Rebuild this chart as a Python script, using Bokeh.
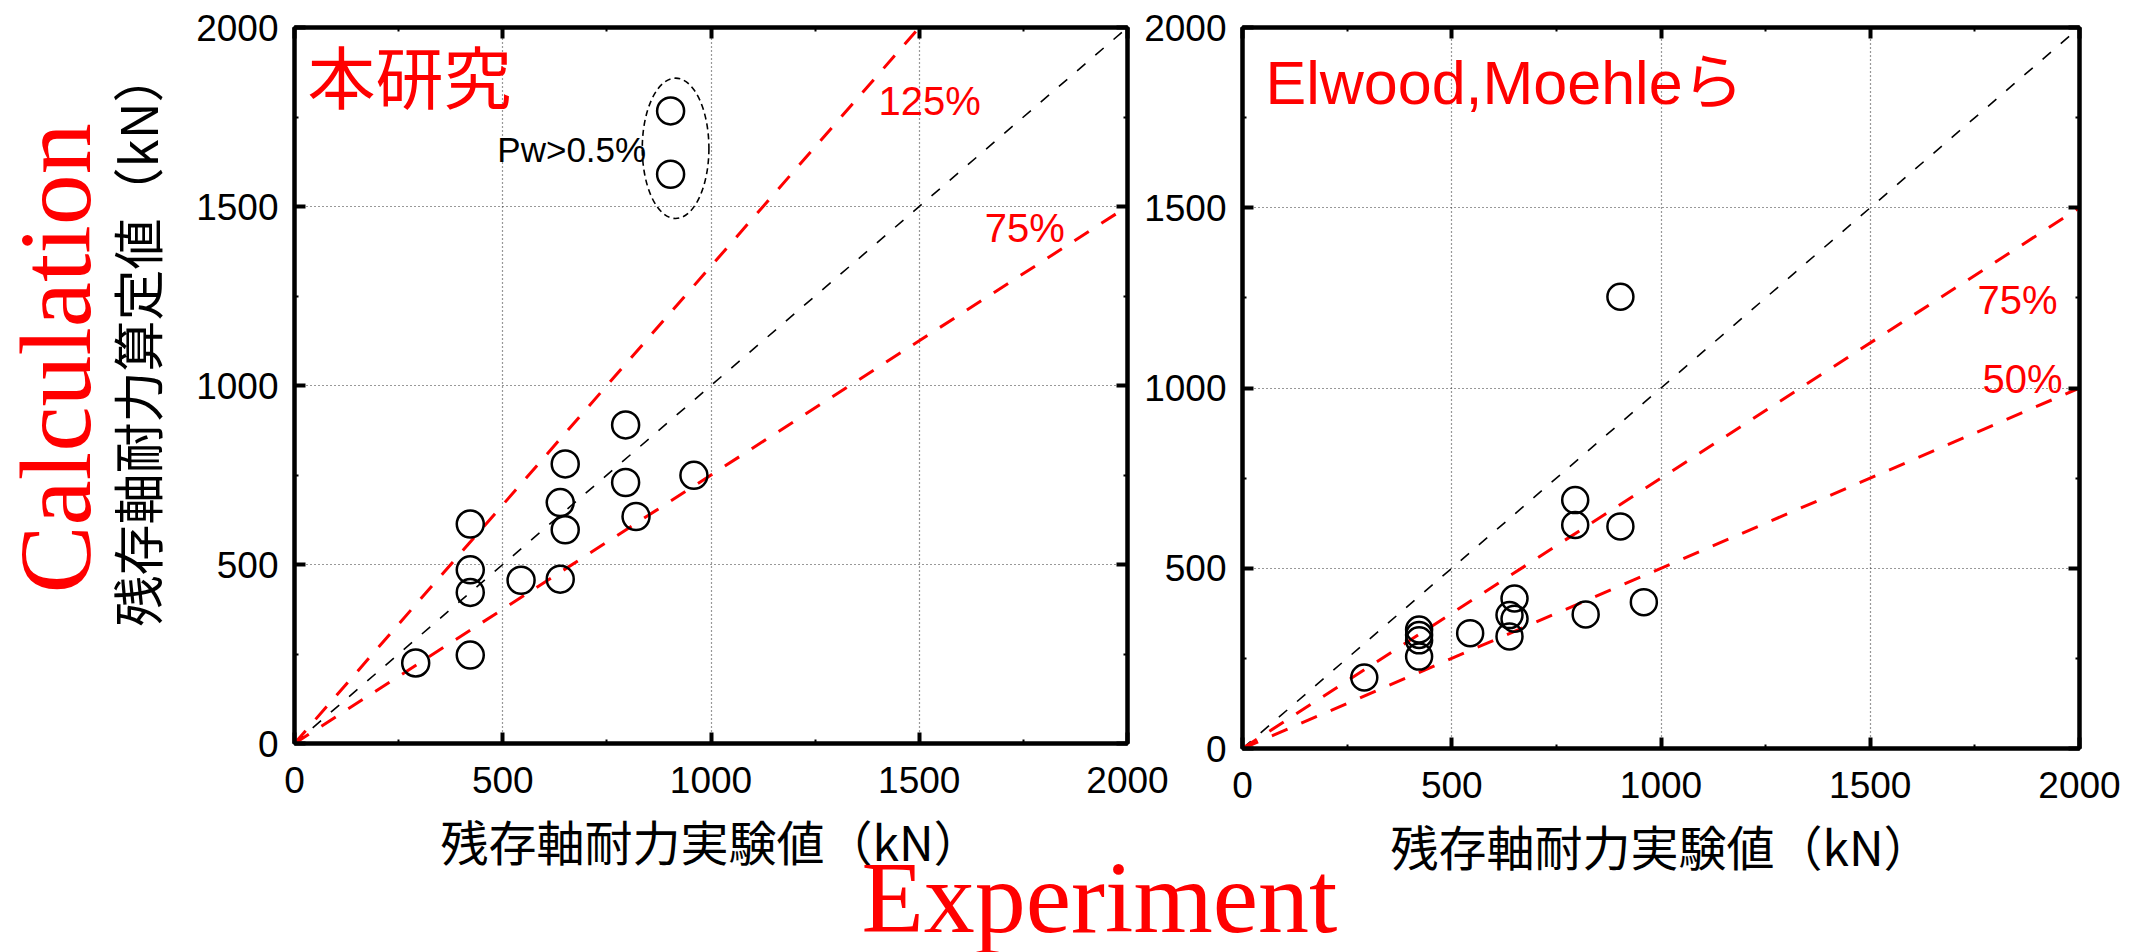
import numpy as np
from bokeh.plotting import figure
from bokeh.models import Range1d, LinearAxis, SingleIntervalTicker, Label, Title
from bokeh.layouts import row
from bokeh.embed import file_html
from bokeh.resources import INLINE

# ---------------- data ----------------
exp_kn = [291, 422, 422, 422, 422, 544, 638, 638, 650, 650, 795, 795, 820, 903, 903, 959]
calc_this_study = [225, 613, 485, 422, 247, 456, 673, 459, 781, 597, 890, 729, 634, 1767, 1590, 749]
calc_elwood = [197, 330, 315, 300, 255, 320, 370, 311, 416, 360, 689, 620, 372, 1253, 616, 406]

axis_range = [0, 2000]
tick_interval = 500
left_ratios = [1.0, 1 / 0.75, 0.75]
right_ratios = [1.0, 0.75, 0.5]
left_ratio_labels = ["125%", "75%"]
right_ratio_labels = ["75%", "50%"]

xlabel = "残存軸耐力実験値（kN）"
ylabel = "残存軸耐力算定値（kN）"

JP = "Noto Sans CJK JP"
LAT = "Liberation Sans"
SERIF = "Liberation Serif"
RED = "#ff0000"


def make_fig(fw, fh, bl, br, bt, bb):
    p = figure(frame_width=fw, frame_height=fh,
               x_range=Range1d(*axis_range), y_range=Range1d(*axis_range),
               output_backend="svg", toolbar_location=None,
               min_border_left=bl, min_border_right=br,
               min_border_top=bt, min_border_bottom=bb)
    p.border_fill_color = None
    p.background_fill_color = None
    p.outline_line_color = "black"
    p.outline_line_width = 4
    bx = p.below[0]
    ly = p.left[0]
    bx.ticker = SingleIntervalTicker(interval=tick_interval, num_minor_ticks=2)
    ly.ticker = SingleIntervalTicker(interval=tick_interval, num_minor_ticks=2)
    extra = []
    for loc in ["above", "right"]:
        a = LinearAxis(ticker=SingleIntervalTicker(interval=tick_interval, num_minor_ticks=2))
        a.major_label_text_font_size = "1px"
        a.major_label_text_color = None
        a.major_label_standoff = 0
        p.add_layout(a, loc)
        extra.append(a)
    for ax in [bx, ly] + extra:
        ax.axis_line_width = 4
        ax.axis_line_color = "black"
        ax.major_tick_in = 11
        ax.major_tick_out = 0
        ax.major_tick_line_width = 4
        ax.minor_tick_in = 4
        ax.minor_tick_out = 0
        ax.minor_tick_line_width = 2
        ax.major_label_text_font = LAT
    for ax in [bx, ly]:
        ax.major_label_text_font_size = "37px"
        ax.major_label_text_color = "black"
    ly.major_label_standoff = 16
    bx.major_label_standoff = 23
    bx.axis_label = xlabel
    bx.axis_label_text_font = JP
    bx.axis_label_text_font_size = "48px"
    bx.axis_label_text_font_style = "normal"
    bx.axis_label_text_color = "black"
    bx.axis_label_standoff = 9
    for g in [p.xgrid[0], p.ygrid[0]]:
        g.ticker = SingleIntervalTicker(interval=tick_interval)
        g.grid_line_color = "#333333"
        g.grid_line_width = 1.2
        g.grid_line_dash = "1 3"
    return p


def add_lines(p, ratios):
    xs = np.array(axis_range, dtype=float)
    for r in ratios:
        if r == 1.0:
            p.line(xs, xs * r, line_color="black", line_width=1.6, line_dash="11 13")
        else:
            p.line(xs, xs * r, line_color=RED, line_width=3, line_dash="17 15")


def make_title(text, font, size, color, offset, standoff, valign="bottom"):
    t = Title(text=text, align="left", vertical_align=valign, offset=offset,
              text_font=font, text_font_size=size, text_font_style="normal",
              text_color=color)
    try:
        t.standoff = standoff
    except Exception:
        t.standoff = 0
    return t


# ---------------- left panel ----------------
p1 = make_fig(833, 716, 294, 230, 27, 209)
add_lines(p1, left_ratios)
p1.scatter(exp_kn, calc_this_study, marker="circle", size=27, fill_color=None,
           line_color="black", line_width=2.5)

# ellipse around the Pw>0.5% group, derived from the group itself
grp = [(x, y) for x, y in zip(exp_kn, calc_this_study) if y > 1500]
gx = np.mean([g[0] for g in grp])
gy = np.mean([g[1] for g in grp])
gspan = max(g[1] for g in grp) - min(g[1] for g in grp)
p1.ellipse(x=[gx + 12], y=[gy - 16], width=[160], height=[gspan + 215],
           fill_color=None, line_color="black", line_width=1.6, line_dash="6 4")

p1.add_layout(Label(x=31, y=1869, text="本研究", text_font=JP, text_font_size="68px",
                    text_color=RED, text_baseline="middle", text_align="left"))
p1.add_layout(Label(x=487, y=1659, text="Pw>0.5%", text_font=LAT, text_font_size="35px",
                    text_color="black", text_baseline="middle", text_align="left"))
p1.add_layout(Label(x=1402, y=1796, text=left_ratio_labels[0], text_font=LAT,
                    text_font_size="40px", text_color=RED, text_baseline="middle"))
p1.add_layout(Label(x=1657, y=1440, text=left_ratio_labels[1], text_font=LAT,
                    text_font_size="40px", text_color=RED, text_baseline="middle"))

p1.add_layout(make_title(ylabel, JP, "51px", "black", 117, 42), "left")
p1.add_layout(make_title("Calculation", SERIF, "102px", RED, 150, -72), "left")
p1.add_layout(make_title("Experiment", SERIF, "102px", RED, 567, -74, "top"), "below")

# ---------------- right panel ----------------
p2 = make_fig(837, 721, 110, 58, 27, 204)
add_lines(p2, right_ratios)
p2.scatter(exp_kn, calc_elwood, marker="circle", size=26, fill_color=None,
           line_color="black", line_width=2.5)
p2.add_layout(Label(x=55, y=1847, text="Elwood,Moehleら", text_font=LAT + ", " + JP,
                    text_font_size="61px", text_color=RED, text_baseline="middle"))
p2.add_layout(Label(x=1756, y=1245, text=right_ratio_labels[0], text_font=LAT,
                    text_font_size="40px", text_color=RED, text_baseline="middle"))
p2.add_layout(Label(x=1768, y=1026, text=right_ratio_labels[1], text_font=LAT,
                    text_font_size="40px", text_color=RED, text_baseline="middle"))
p2.styles = {"margin-left": "-225px"}

layout = row(p1, p2)
open("out.html", "w").write(file_html(layout, INLINE))
